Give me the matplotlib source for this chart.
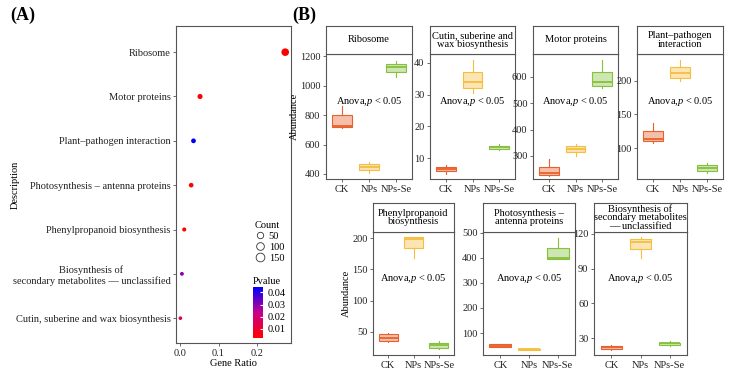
import numpy as np
import matplotlib
matplotlib.use("Agg")
import matplotlib.pyplot as plt
from matplotlib.colors import LinearSegmentedColormap
from matplotlib.lines import Line2D

plt.rcParams['font.family'] = ['Liberation Serif', 'DejaVu Serif']
plt.rcParams['mathtext.fontset'] = 'custom'
plt.rcParams['mathtext.rm'] = 'Liberation Serif'
plt.rcParams['mathtext.it'] = 'Liberation Serif:italic'

# ---------------- data ----------------
# panel A (bottom -> top)
descriptions = ["Cutin, suberine and wax biosynthesis",
                "Biosynthesis of\nsecondary metabolites \u2014 unclassified",
                "Phenylpropanoid biosynthesis",
                "Photosynthesis \u2013 antenna proteins",
                "Plant\u2013pathogen interaction",
                "Motor proteins",
                "Ribosome"]
gene_ratio = [0.001, 0.005, 0.011, 0.029, 0.035, 0.052, 0.273]
counts = [1, 2, 4, 10, 12, 18, 96]
pvalues = [0.015, 0.030, 0.0025, 0.0025, 0.0445, 0.0025, 0.0025]

# panel B: five-number summaries (whislo, q1, med, q3, whishi) for CK, NPs, NPs-Se
groups = ["CK", "NPs", "NPs-Se"]
ribosome_stats = [[712, 719, 725, 800, 861], [407, 427, 447, 468, 481], [1058, 1092, 1125, 1146, 1166]]
cutin_stats = [[5.0, 6.0, 6.5, 7.3, 7.8], [30.5, 32.1, 34.0, 37.2, 41.0], [12.6, 13.0, 13.4, 13.9, 14.4]]
motor_stats = [[223, 227, 234, 257, 287], [300, 315, 327, 338, 345], [559, 566, 581, 619, 665]]
plant_stats = [[108, 110, 113, 125, 137], [200, 204, 212, 221, 231], [63, 66, 71, 75, 78]]
phenyl_stats = [[34, 35, 40, 46, 49], [168, 184, 199, 202, 202], [22, 25, 29, 33, 36]]
photo_stats = [[44, 45, 48, 55, 58], [31, 33, 35, 38, 40], [393, 395, 400, 440, 480]]
biosyn_stats = [[20, 20.8, 22, 23, 24], [99, 107, 113, 115.7, 117.5], [23, 24, 25.5, 26, 27]]

group_colors = ['#E8602C', '#F5BE41', '#86C13D']
spine_col = '#555555'
fs = 7.5

fig = plt.figure(figsize=(7.31, 3.72), dpi=100)
W, H = 731.0, 372.0


def rect(x0, x1, ytop, ybot):
    return [x0 / W, 1 - ybot / H, (x1 - x0) / W, (ybot - ytop) / H]


def style_spines(ax):
    for s in ax.spines.values():
        s.set_color(spine_col)
        s.set_linewidth(0.8)
    ax.tick_params(length=2.5, width=0.6, color=spine_col, labelsize=fs,
                   labelcolor='#222222', pad=1.5)


# ---------------- panel A ----------------
def dot_size(c):
    d_px = 3.2 + 0.45 * np.sqrt(c)
    return d_px * 0.72


cmap = LinearSegmentedColormap.from_list('pv', ['#FF0000', '#C8008C', '#0000FF'])
axA = fig.add_axes(rect(176, 291, 26, 343))
ypos = np.arange(len(descriptions))
sc = axA.scatter(gene_ratio, ypos, s=[dot_size(c) ** 2 for c in counts], c=pvalues,
                 cmap=cmap, vmin=min(pvalues), vmax=max(pvalues), edgecolors='none', zorder=3)
axA.set_xlim(-0.0104, 0.288)
axA.set_ylim(-0.56, 6.59)
axA.set_xticks([0.0, 0.1, 0.2])
axA.set_xticklabels(["0.0", "0.1", "0.2"])
axA.set_yticks(ypos)
axA.set_yticklabels(descriptions, ha='right', multialignment='center')
style_spines(axA)
axA.set_xlabel("Gene Ratio", fontsize=fs, labelpad=1)
axA.set_ylabel("Description", fontsize=fs)
axA.yaxis.set_label_coords(-1.36, 0.5)

handles = [Line2D([], [], marker='o', linestyle='none', markerfacecolor='none',
                  markeredgecolor='#333333', markeredgewidth=0.6, markersize=dot_size(c))
           for c in [50, 100, 150]]
leg = axA.legend(handles, ["50", "100", "150"], title="Count", loc='upper left',
                 bbox_to_anchor=(249 / W, 1 - 216 / H), bbox_transform=fig.transFigure,
                 frameon=False, fontsize=fs, title_fontsize=fs, borderpad=0,
                 handletextpad=0.2, labelspacing=0.15, handlelength=1.2, alignment='left')

cax = fig.add_axes(rect(253, 263, 287, 338))
cb = fig.colorbar(sc, cax=cax, ticks=[0.01, 0.02, 0.03, 0.04])
cb.outline.set_visible(False)
cax.tick_params(length=2, color='white', direction='in', labelsize=fs, pad=3)
cax.set_yticklabels(["0.01", "0.02", "0.03", "0.04"])
cax.set_title("Pvalue", loc='left', fontsize=fs, pad=2)

# ---------------- panel B ----------------
panels = [
    ("Ribosome", ribosome_stats, (366, 1214), [400, 600, 800, 1000, 1200], (326, 412, 26, 54, 179), True),
    ("Cutin, suberine and\nwax biosynthesis", cutin_stats, (3.4, 42.8), [10, 20, 30, 40], (430, 515, 26, 54, 179), False),
    ("Motor proteins", motor_stats, (212, 687), [300, 400, 500, 600], (533, 618, 26, 54, 179), False),
    ("Plant\u2013pathogen\ninteraction", plant_stats, (54, 240), [100, 150, 200], (637, 723, 26, 54, 179), False),
    ("Phenylpropanoid\nbiosynthesis", phenyl_stats, (13, 210), [50, 100, 150, 200], (373, 454, 203, 232, 355), True),
    ("Photosynthesis \u2013\nantenna proteins", photo_stats, (13, 502), [100, 200, 300, 400, 500], (483, 575, 203, 232, 355), False),
    ("Biosynthesis of\nsecondary metabolites\n\u2014 unclassified", biosyn_stats, (15.3, 121.7), [30, 60, 90, 120], (594, 687, 203, 232, 355), False),
]

for title, stats, ylim, yt, (x0, x1, yst, ymid, ybot), ylab in panels:
    ax = fig.add_axes(rect(x0, x1, ymid, ybot))
    sax = fig.add_axes(rect(x0, x1, yst, ymid))
    bstats = [dict(whislo=s[0], q1=s[1], med=s[2], q3=s[3], whishi=s[4], label=g)
              for s, g in zip(stats, groups)]
    bp = ax.bxp(bstats, positions=[1, 2, 3], widths=0.75, patch_artist=True,
                showfliers=False, showcaps=False)
    for i, col in enumerate(group_colors):
        bp['boxes'][i].set_facecolor(matplotlib.colors.to_rgba(col, 0.4))
        bp['boxes'][i].set_edgecolor(col)
        bp['boxes'][i].set_linewidth(0.8)
        bp['medians'][i].set_color(col)
        bp['medians'][i].set_linewidth(1.3)
        for w in bp['whiskers'][2 * i:2 * i + 2]:
            w.set_color(col)
            w.set_linewidth(0.8)
    ax.set_xlim(0.4, 3.6)
    ax.set_ylim(*ylim)
    ax.set_yticks(yt)
    ax.set_xticks([1, 2, 3])
    ax.set_xticklabels(groups, fontsize=8)
    style_spines(ax)
    ax.text(0.5, 0.62, "Anova,$p$ < 0.05", transform=ax.transAxes, ha='center',
            va='center', fontsize=fs)
    if ylab:
        ax.set_ylabel("Abundance", fontsize=fs, labelpad=1)
    sax.set_xticks([])
    sax.set_yticks([])
    for s in sax.spines.values():
        s.set_color(spine_col)
        s.set_linewidth(0.8)
    sax.text(0.5, 0.5, title, ha='center', va='center', fontsize=fs,
             linespacing=0.95, transform=sax.transAxes)

fig.text(10 / W, 1 - 15 / H, "(A)", fontsize=13, fontweight='bold', va='center', ha='left')
fig.text(292 / W, 1 - 15 / H, "(B)", fontsize=13, fontweight='bold', va='center', ha='left')

fig.savefig("out.png", dpi=100)
